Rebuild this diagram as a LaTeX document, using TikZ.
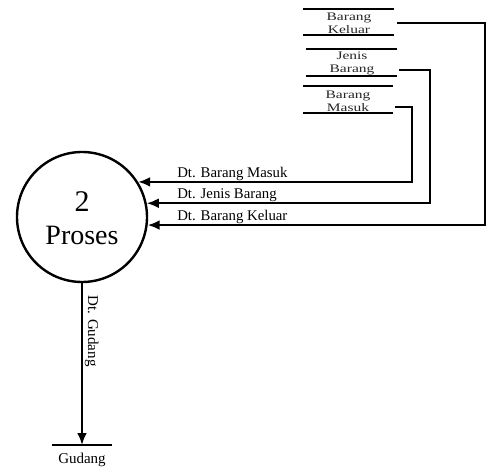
\documentclass[tikz,border=0pt]{standalone}
\usepackage{fontspec}
\setmainfont{Liberation Serif}
\newfontfamily\storefont{Liberation Serif}[FakeStretch=1.35]
\usetikzlibrary{arrows.meta}
\begin{document}
\begin{tikzpicture}[x=0.75pt,y=-0.75pt,
  ln/.style={line width=1.8pt},
  arr/.style={line width=1.8pt,-{Latex[length=9pt,width=7.5pt]}},
  lbl/.style={anchor=base west,inner sep=0pt,font=\fontsize{11.1}{13}\selectfont},
  stxt/.style={anchor=base,inner sep=0pt,font=\storefont\fontsize{8.6}{10}\selectfont,text=black!85},
  big/.style={anchor=base,inner sep=0pt,font=\fontsize{21}{24}\selectfont}]
\useasboundingbox (0,0) rectangle (489,470);
% process
\node[circle,draw,line width=1.8pt,minimum size=97.5pt,inner sep=0pt] (p) at (82,217) {};
\node[big,font=\fontsize{22.5}{26}\selectfont] (n2) at (82,212) {2};
\node[big] (np) at (82,245) {Proses};
% store Barang Keluar
\draw[ln] (303,9) -- (394,9);
\draw[ln] (303,35) -- (394,35);
\node[stxt] (sk1) at (349,21) {Barang};
\node[stxt] (sk2) at (349,34) {Keluar};
\coordinate (ko) at (397,23);
% store Jenis Barang
\draw[ln] (306,49) -- (397,49);
\draw[ln] (306,76) -- (397,76);
\node[stxt] (sj1) at (352,60) {Jenis};
\node[stxt] (sj2) at (352,73) {Barang};
\coordinate (jo) at (399,70);
% store Barang Masuk
\draw[ln] (303,86) -- (393,86);
\draw[ln] (303,113) -- (393,113);
\node[stxt] (sm1) at (348,99) {Barang};
\node[stxt] (sm2) at (348,112) {Masuk};
\coordinate (mo) at (395,107);
% flows
\draw[arr] (mo) -- (412,107) |- (p.32.6);
\draw[arr] (jo) -- (430,70) |- (p.12.4);
\draw[arr] (ko) -- (485,23) |- (p.-7.1);
\node[lbl] (l1) at (177,177.5) {Dt. Barang Masuk};
\node[lbl] (l2) at (177,198.7) {Dt. Jenis Barang};
\node[lbl] (l3) at (177,220.5) {Dt. Barang Keluar};
% Gudang
\coordinate (g) at (82,445);
\draw[ln] (52,445) -- (112,445);
\node[anchor=base,inner sep=0pt,font=\fontsize{11.25}{13}\selectfont] (gt) at (82,463) {Gudang};
\draw[arr] (p.south) -- (g);
\node[anchor=base west,inner sep=0pt,rotate=-90,font=\fontsize{11.25}{13}\selectfont] (lg) at (88,295) {Dt. Gudang};
\end{tikzpicture}
\end{document}
